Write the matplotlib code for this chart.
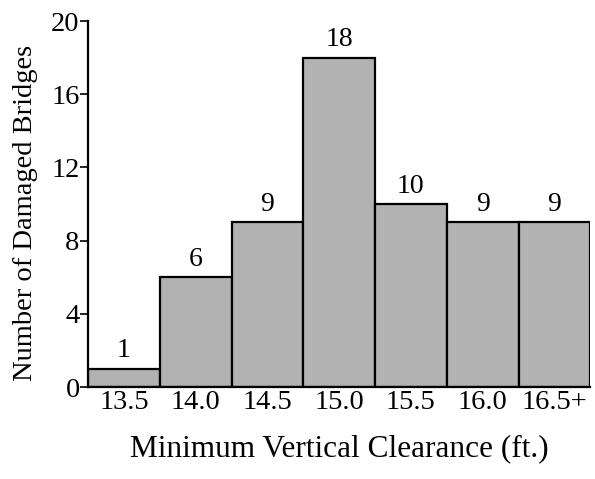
import numpy as np
import matplotlib.pyplot as plt

# Histogram of damaged bridges by minimum vertical clearance
clearance = ['13.5', '14.0', '14.5', '15.0', '15.5', '16.0', '16.5+']
bridges = [1, 6, 9, 18, 10, 9, 9]

plt.rcParams['font.family'] = ['Liberation Serif', 'DejaVu Serif']

fig = plt.figure(figsize=(5.95, 4.79), dpi=100)
ax = fig.add_axes([0.148, 0.192, 0.844, 0.764])

x = np.arange(len(clearance))
bars = ax.bar(x, bridges, width=1.0, color='#b2b2b2', edgecolor='black', linewidth=1.6)

for xi, v in zip(x, bridges):
    ax.text(xi, v + 0.3, str(v), ha='center', va='bottom', fontsize=20)

ax.set_xlim(-0.5, len(clearance) - 0.5)
ax.set_ylim(0, 20)
ax.set_yticks([0, 4, 8, 12, 16, 20])
ax.set_xticks(x)
ax.set_xticklabels(clearance)
ax.tick_params(axis='x', length=0, labelsize=20.5, pad=2)
ax.tick_params(axis='y', length=6, width=1.2, direction='out', labelsize=20.5, pad=0)

for s in ['top', 'right']:
    ax.spines[s].set_visible(False)
ax.spines['left'].set_linewidth(1.6)
ax.spines['bottom'].set_linewidth(1.6)

ax.set_xlabel('Minimum Vertical Clearance (ft.)', fontsize=22.5, labelpad=14)
ax.set_ylabel('Number of Damaged Bridges', fontsize=20.5)
ax.yaxis.set_label_coords(-0.1, 0.475)

fig.savefig('out.png', dpi=100)
